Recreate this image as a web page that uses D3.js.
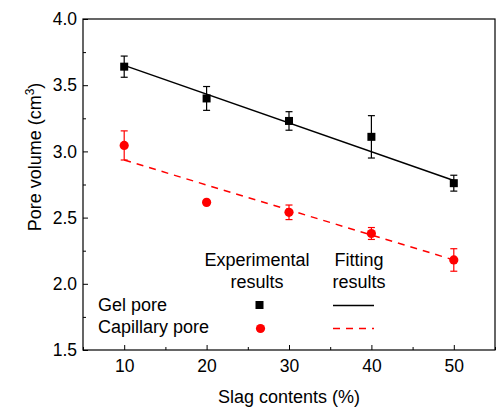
<!DOCTYPE html>
<html><head><meta charset="utf-8">
<script src="https://cdn.jsdelivr.net/npm/d3@7"></script>
<style>body{margin:0;background:#fff}svg{display:block}text{font-family:"Liberation Sans",Arial,sans-serif}</style>
</head><body><svg id="c" width="496" height="409"></svg>
<script>
const slag = [10, 20, 30, 40, 50];
const gelPore = [3.64, 3.40, 3.23, 3.11, 2.76];
const gelErr = [0.08, 0.09, 0.07, 0.16, 0.06];
const capPore = [3.045, 2.615, 2.54, 2.38, 2.18];
const capErr = [0.11, 0.0, 0.055, 0.045, 0.085];
const fitX = [10, 50];
const gelFit = [3.65, 2.78];
const capFit = [2.935, 2.18];
const xTicks = [10, 20, 30, 40, 50];
const yTicks = [1.5, 2.0, 2.5, 3.0, 3.5, 4.0];

const svg = d3.select("#c");
const L = 83, R = 495, T = 19, B = 350;
const x = d3.scaleLinear().domain([5, 55]).range([L, R]);
const y = d3.scaleLinear().domain([1.5, 4.0]).range([B, T]);

// axes with inward ticks
const xMinor = d3.range(5, 56, 5).filter(v => v % 10 !== 0);
const yMinor = d3.range(1.75, 4.0, 0.5);
const gx = svg.append("g").attr("transform", `translate(0,${B})`);
gx.call(d3.axisBottom(x).tickValues(xTicks).tickSizeInner(-5).tickSizeOuter(0).tickPadding(10).tickFormat(d3.format("d")));
gx.append("g").call(d3.axisBottom(x).tickValues(xMinor).tickSizeInner(-3).tickSizeOuter(0).tickFormat(""));
const gy = svg.append("g").attr("transform", `translate(${L},0)`);
gy.call(d3.axisLeft(y).tickValues(yTicks).tickSizeInner(-5).tickSizeOuter(0).tickPadding(6).tickFormat(d3.format(".1f")));
gy.append("g").call(d3.axisLeft(y).tickValues(yMinor).tickSizeInner(-3).tickSizeOuter(0).tickFormat(""));
svg.selectAll(".domain").remove();
svg.selectAll(".tick line").attr("stroke", "#000").attr("stroke-width", 1);
svg.selectAll(".tick text").attr("font-size", 17.5).attr("fill", "#000").attr("font-family", "Liberation Sans, Arial, sans-serif");

svg.append("rect").attr("x", L).attr("y", T).attr("width", R - L).attr("height", B - T)
  .attr("fill", "none").attr("stroke", "#000").attr("stroke-width", 1.2);

// fit lines
const line = d3.line().x((d, i) => x(fitX[i])).y(d => y(d));
svg.append("path").attr("d", line(gelFit)).attr("fill", "none").attr("stroke", "#000").attr("stroke-width", 1.5);
svg.append("path").attr("d", line(capFit)).attr("fill", "none").attr("stroke", "#ff0000").attr("stroke-width", 1.5).attr("stroke-dasharray", "7,6");

// error bars
function errBars(vals, errs, color) {
  const g = svg.append("g").attr("stroke", color).attr("stroke-width", 1.2);
  slag.forEach((s, i) => {
    if (errs[i] <= 0) return;
    const cx = x(s), y1 = y(vals[i] + errs[i]), y2 = y(vals[i] - errs[i]);
    g.append("line").attr("x1", cx).attr("x2", cx).attr("y1", y1).attr("y2", y2);
    g.append("line").attr("x1", cx - 3.5).attr("x2", cx + 3.5).attr("y1", y1).attr("y2", y1);
    g.append("line").attr("x1", cx - 3.5).attr("x2", cx + 3.5).attr("y1", y2).attr("y2", y2);
  });
}
errBars(gelPore, gelErr, "#000");
errBars(capPore, capErr, "#ff0000");

svg.append("g").selectAll("rect").data(gelPore).join("rect")
  .attr("x", (d, i) => x(slag[i]) - 4).attr("y", d => y(d) - 4)
  .attr("width", 8).attr("height", 8).attr("fill", "#000");
svg.append("g").selectAll("circle").data(capPore).join("circle")
  .attr("cx", (d, i) => x(slag[i])).attr("cy", d => y(d)).attr("r", 4.6).attr("fill", "#ff0000");

// legend
const fs = 18;
const lg = svg.append("g").attr("font-size", fs).attr("fill", "#000");
lg.append("text").attr("x", 257).attr("y", 265.5).attr("text-anchor", "middle").text("Experimental");
lg.append("text").attr("x", 257).attr("y", 287.5).attr("text-anchor", "middle").text("results");
lg.append("text").attr("x", 359).attr("y", 265.5).attr("text-anchor", "middle").text("Fitting");
lg.append("text").attr("x", 359).attr("y", 287.5).attr("text-anchor", "middle").text("results");
lg.append("text").attr("x", 98).attr("y", 311).text("Gel pore");
lg.append("text").attr("x", 98).attr("y", 333).text("Capillary pore");
svg.append("rect").attr("x", 259.5 - 4).attr("y", 305 - 4).attr("width", 8).attr("height", 8).attr("fill", "#000");
svg.append("circle").attr("cx", 260.5).attr("cy", 328.5).attr("r", 4.6).attr("fill", "#ff0000");
svg.append("line").attr("x1", 333).attr("x2", 374).attr("y1", 305.5).attr("y2", 305.5).attr("stroke", "#000").attr("stroke-width", 1.5);
svg.append("line").attr("x1", 333).attr("x2", 374).attr("y1", 328.5).attr("y2", 328.5).attr("stroke", "#ff0000").attr("stroke-width", 1.5).attr("stroke-dasharray", "7,6");

// axis titles
svg.append("text").attr("x", 289).attr("y", 403).attr("text-anchor", "middle").attr("font-size", 18).text("Slag contents (%)");
const yl = svg.append("text").attr("transform", "translate(41,157) rotate(-90)").attr("text-anchor", "middle").attr("font-size", 18);
yl.append("tspan").text("Pore volume (cm");
yl.append("tspan").attr("font-size", 12).attr("dy", -7).text("3");
yl.append("tspan").attr("dy", 7).text(")");
</script></body></html>
